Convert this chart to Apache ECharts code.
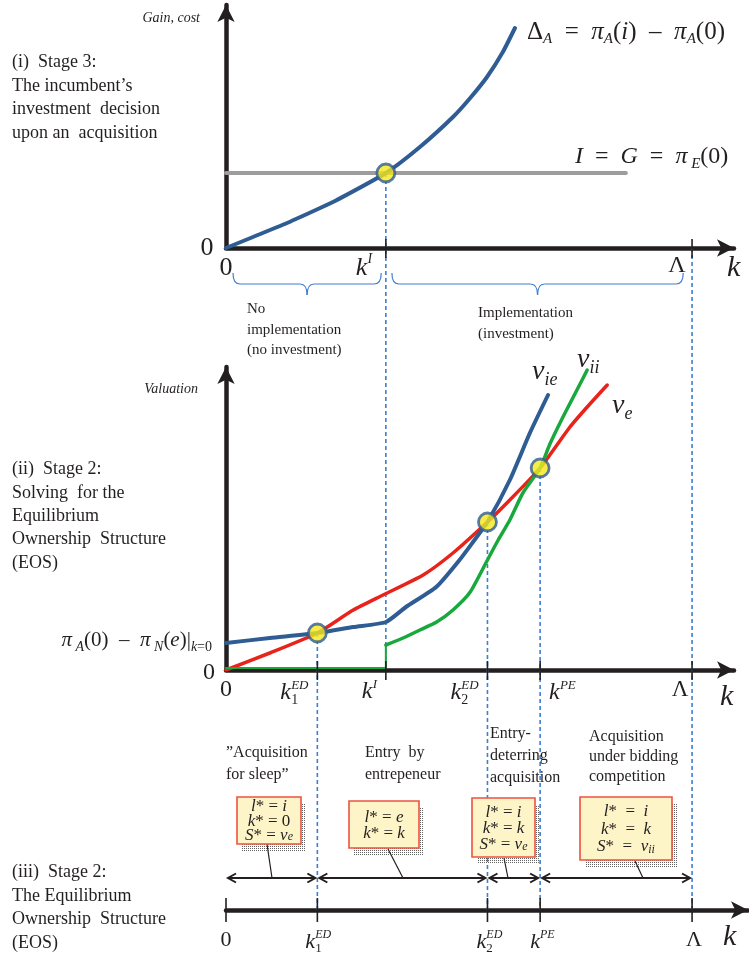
<!DOCTYPE html>
<html><head><meta charset="utf-8">
<script src="https://cdn.jsdelivr.net/npm/echarts@6/dist/echarts.min.js"></script>
<style>html,body{margin:0;padding:0;background:#fff}#c{width:749px;height:961px}</style>
</head><body><div id="c"></div>
<script>
// ---------------- data ----------------
const K_I = 3.43, K1_ED = 1.96, K2_ED = 5.61, K_PE = 6.74, LAMBDA = 10;
const COST_I = 7.5;            // I = G = pi_E(0)
const COST_END = 8.58;         // end of the cost line (k)
// Panel (i): Delta_A
const deltaA = [[0,0],[0.58,1.1],[1.31,2.5],[2.02,4.0],[2.38,4.8],[3.43,7.5],[4.16,10.1],[4.87,13.1],[5.24,15.0],[5.6,17.1],[5.94,19.6],[6.2,22.0]];
// Panel (ii): valuations
const vE  = [[0,0],[0.94,1.7],[1.96,3.7],[2.73,6.0],[3.37,7.5],[4.23,9.5],[4.87,11.7],[5.61,14.8],[6.09,17.0],[6.74,20.2],[7.38,24.3],[7.75,26.3],[8.18,28.5]];
const vIE = [[0,2.7],[0.94,3.2],[1.96,3.7],[2.73,4.3],[3.43,4.8],[3.86,6.3],[4.51,8.3],[5.01,11.0],[5.3,12.8],[5.61,14.8],[6.09,19.0],[6.52,23.7],[6.91,27.5]];
const vIIflat = [[0,0.2],[3.43,0.2],[3.43,2.5]];
const vII = [[3.43,2.5],[3.8,3.2],[4.16,4.0],[4.52,4.8],[4.87,6.0],[5.24,7.8],[5.61,11.0],[5.84,13.0],[6.09,15.0],[6.37,17.7],[6.74,20.2],[6.95,22.6],[7.23,25.3],[7.53,28.0],[7.75,30.0]];
const cross1 = [[K_I, COST_I]];
const cross2 = [[K1_ED,3.7],[K2_ED,14.8],[K_PE,20.2]];
// tick positions
const ticks1 = [K_I, LAMBDA];
const ticks2 = [K1_ED, K_I, K2_ED, K_PE, LAMBDA];
const ticks3 = [0, K1_ED, K2_ED, K_PE, LAMBDA];
// regimes in panel 3
const regimes = [[0,K1_ED],[K1_ED,K2_ED],[K2_ED,K_PE],[K_PE,LAMBDA]];

// ---------------- style ----------------
const INK='#231f20', BLUE='#2f5d93', RED='#e8231b', GREEN='#19a83e', GRAY='#9d9d9d',
      DASH='#3f7fce', YEL='#f5e71c', SERIF='"Liberation Serif","DejaVu Serif",serif';

function axisX(g, max){
  return {type:'value', gridIndex:g, min:0, max:max,
    axisLine:{show:true, onZero:false, symbol:['none','arrow'], symbolSize:[13,17], lineStyle:{color:INK, width:4.5}},
    axisTick:{show:false}, axisLabel:{show:false}, splitLine:{show:false}};
}
function axisY(g, max, show){
  return {type:'value', gridIndex:g, min:0, max:max, show:show,
    axisLine:{show:show, onZero:false, symbol:['none','arrow'], symbolSize:[13,17], lineStyle:{color:INK, width:4.5}},
    axisTick:{show:false}, axisLabel:{show:false}, splitLine:{show:false}};
}
const circ = {symbol:'circle', symbolSize:18, itemStyle:{color:YEL, borderColor:BLUE, borderWidth:2.8}, z:6};
function ln(g, data, color, width, smooth, z){
  return {type:'line', xAxisIndex:g, yAxisIndex:g, data:data, smooth:smooth, symbol:'none',
    lineStyle:{color:color, width:width, cap:'round', join:'round'}, z:z||3, silent:true};
}

const option = {
  animation:false, backgroundColor:'#fff',
  grid:[
    {left:226, top:5, width:508, height:243},
    {left:226, top:367, width:508, height:303},
    {left:226, top:860, width:522, height:50}
  ],
  xAxis:[axisX(0,10.9), axisX(1,10.9), axisX(2,11.2)],
  yAxis:[axisY(0,24.3,true), axisY(1,30.3,true), axisY(2,1,false)],
  series:[
    ln(0, [[0,COST_I],[COST_END,COST_I]], GRAY, 4, false, 2),
    ln(0, deltaA, BLUE, 4, 0.2, 3),
    Object.assign({type:'scatter', xAxisIndex:0, yAxisIndex:0, data:cross1}, circ),
    ln(1, vE, RED, 3.5, 0.2, 3),
    ln(1, vIE, BLUE, 4, 0.2, 4),
    ln(1, vIIflat, GREEN, 2, false, 3),
    ln(1, vII, GREEN, 3.5, 0.2, 3),
    Object.assign({type:'scatter', xAxisIndex:1, yAxisIndex:1, data:cross2}, circ),
    {type:'line', xAxisIndex:2, yAxisIndex:2, data:[], symbol:'none'}
  ]
};

const chart = echarts.init(document.getElementById('c'), null, {renderer:'canvas'});
chart.setOption(option);

// ---------------- annotations via library coordinates ----------------
const P = (g,k,v)=>chart.convertToPixel({gridIndex:g},[k,v]);
const els = [];
function poly(pts, st, z){ els.push({type:'polyline', z:z||4, silent:true, shape:{points:pts}, style:Object.assign({stroke:INK, lineWidth:1.5, fill:null}, st)}); }
function bez(x1,y1,cx,cy,x2,y2,st,z){ els.push({type:'bezierCurve', z:z||4, silent:true, shape:{x1:x1,y1:y1,cpx1:cx,cpy1:cy,x2:x2,y2:y2}, style:Object.assign({stroke:INK, lineWidth:1.5, fill:null}, st)}); }
function txt(x, y, text, st, z){ els.push({type:'text', x:x, y:y, z:z||20, silent:true,
  style:Object.assign({text:text, fill:INK, fontSize:18, fontFamily:SERIF, align:'left', verticalAlign:'middle'}, st)}); }
function r(fs, italic, va, lh){ return {fontSize:fs, fontFamily:SERIF, fontStyle:italic?'italic':'normal', fill:INK, verticalAlign:va||'middle', lineHeight:lh||Math.round(fs*1.2)}; }

// dashed guides
const dashSt = {stroke:DASH, lineWidth:1.6, lineDash:[4,3]};
poly([P(0,K_I,COST_I), P(1,K_I,0)], dashSt, 1);
poly([P(0,LAMBDA,0), P(2,LAMBDA,0)], dashSt, 1);
cross2.forEach(c=>poly([P(1,c[0],c[1]), P(2,c[0],0)], dashSt, 1));

// ticks
ticks1.forEach(k=>{const p=P(0,k,0); poly([[p[0],p[1]-9],[p[0],p[1]+10]], {lineWidth:1.6}, 5);});
ticks2.forEach(k=>{const p=P(1,k,0); poly([[p[0],p[1]-9],[p[0],p[1]+10]], {lineWidth:1.6}, 5);});
ticks3.forEach(k=>{const p=P(2,k,0); poly([[p[0],p[1]-12],[p[0],p[1]+12]], {lineWidth:1.6}, 5);});

// braces under panel (i)
function brace(x1, x2, y){
  const m=(x1+x2)/2, st={stroke:DASH, lineWidth:1.2};
  bez(x1, y-11, x1, y, x1+7, y, st);
  poly([[x1+7,y],[m-7,y]], st);
  bez(m-7, y, m, y, m, y+11, st);
  bez(m, y+11, m, y, m+7, y, st);
  poly([[m+7,y],[x2-7,y]], st);
  bez(x2-7, y, x2, y, x2, y-11, st);
}
brace(P(0,0.15,0)[0], P(0,K_I-0.1,0)[0], 284);
brace(P(0,K_I+0.13,0)[0], P(0,LAMBDA-0.19,0)[0], 284);

// double arrows in panel (iii)
const AY = 878;
regimes.forEach(rg=>{
  const a=P(2,rg[0],0)[0]+2, b=P(2,rg[1],0)[0]-2;
  poly([[a,AY],[b,AY]], {lineWidth:2}, 5);
  poly([[a+8,AY-4.5],[a,AY],[a+8,AY+4.5]], {lineWidth:2}, 5);
  poly([[b-8,AY-4.5],[b,AY],[b-8,AY+4.5]], {lineWidth:2}, 5);
});

// math-style axis labels
function kLab(x, y, fs, sup, sub){
  txt(x, y, 'k', {fontSize:fs, fontStyle:'italic'});
  const w = fs*0.45;
  if(sup) txt(x+w, y-fs*0.32, sup, {fontSize:Math.round(fs*0.55), fontStyle:'italic'});
  if(sub) txt(x+w, y+fs*0.3, sub, {fontSize:Math.round(fs*0.58)});
}
function at(g,k){ return P(g,k,0)[0]; }
// panel (i)
txt(at(0,0), 268, '0', {fontSize:26, align:'center'});
txt(207, 248, '0', {fontSize:26, align:'center'});
kLab(at(0,K_I)-30, 268, 26, 'I');
txt(at(0,LAMBDA)-15, 266, 'Λ', {fontSize:24, align:'center'});
txt(727, 268, 'k', {fontSize:30, fontStyle:'italic'});
// panel (ii)
txt(at(1,0), 690, '0', {fontSize:24, align:'center'});
txt(209, 673, '0', {fontSize:24, align:'center'});
kLab(at(1,K1_ED)-37, 693, 24, 'ED', '1');
kLab(at(1,K_I)-24, 692, 24, 'I');
kLab(at(1,K2_ED)-37, 693, 24, 'ED', '2');
kLab(at(1,K_PE)+9, 693, 24, 'PE');
txt(at(1,LAMBDA)-12, 690, 'Λ', {fontSize:23, align:'center'});
txt(720, 697, 'k', {fontSize:30, fontStyle:'italic'});
// panel (iii)
txt(at(2,0), 940, '0', {fontSize:22, align:'center'});
kLab(at(2,K1_ED)-12, 942, 22, 'ED', '1');
kLab(at(2,K2_ED)-11, 942, 22, 'ED', '2');
kLab(at(2,K_PE)-10, 942, 22, 'PE');
txt(at(2,LAMBDA)+2, 940, 'Λ', {fontSize:22, align:'center'});
txt(723, 937, 'k', {fontSize:30, fontStyle:'italic'});

// axis titles
txt(200, 18, 'Gain, cost', {fontSize:14, fontStyle:'italic', align:'right'});
txt(198, 389, 'Valuation', {fontSize:14, fontStyle:'italic', align:'right'});

// stage descriptions
txt(12, 51, '(i)  Stage 3:\nThe incumbent’s\ninvestment  decision\nupon an  acquisition', {fontSize:18, lineHeight:23.5, verticalAlign:'top'});
txt(12, 458, '(ii)  Stage 2:\nSolving  for the\nEquilibrium\nOwnership  Structure\n(EOS)', {fontSize:18, lineHeight:23.3, verticalAlign:'top'});
txt(12, 861, '(iii)  Stage 2:\nThe Equilibrium\nOwnership  Structure\n(EOS)', {fontSize:18, lineHeight:23.5, verticalAlign:'top'});

// implementation notes
txt(247, 299, 'No\nimplementation\n(no investment)', {fontSize:15, lineHeight:20.5, verticalAlign:'top'});
txt(478, 303, 'Implementation\n(investment)', {fontSize:15, lineHeight:21, verticalAlign:'top'});

// formulas
txt(527, 32, '{n|Δ}{s|A}{n|  =  }{i|π}{s|A}{n|(}{i|i}{n|)  –  }{i|π}{s|A}{n|(0)}', {rich:{
  n:r(25,false,'middle',30), i:r(25,true,'middle',30), s:r(15,true,'bottom',14)}});
txt(575, 157, '{i|I}{n|  =  }{i|G}{n|  =  }{i|π}{s| E}{n|(0)}', {rich:{
  n:r(24,false,'middle',30), i:r(24,true,'middle',30), s:r(15,true,'bottom',15)}});
txt(212, 640, '{i|π}{s| A}{n|(0)  –  }{i|π}{s| N}{n|(}{i|e}{n|)|}{s|k}{t|=0}', {align:'right', rich:{
  n:r(21,false,'middle',28), i:r(21,true,'middle',28), s:r(14,true,'bottom',13), t:r(14,false,'bottom',13)}});
txt(532, 372, '{v|v}{s|ie}', {rich:{v:r(28,true,'middle',34), s:r(18,true,'bottom',18)}});
txt(577, 360, '{v|v}{s|ii}', {rich:{v:r(28,true,'middle',34), s:r(18,true,'bottom',18)}});
txt(612, 406, '{v|v}{s|e}', {rich:{v:r(28,true,'middle',34), s:r(18,true,'bottom',18)}});

// regime titles
txt(226, 742, '”Acquisition\nfor sleep”', {fontSize:16, lineHeight:22, verticalAlign:'top'});
txt(365, 742, 'Entry  by\nentrepeneur', {fontSize:16, lineHeight:22, verticalAlign:'top'});
txt(490, 723, 'Entry-\ndeterring\nacquisition', {fontSize:16, lineHeight:22, verticalAlign:'top'});
txt(589, 727, 'Acquisition\nunder bidding\ncompetition', {fontSize:16, lineHeight:20, verticalAlign:'top'});

// outcome boxes
const pc = document.createElement('canvas'); pc.width=2; pc.height=2;
const pg = pc.getContext('2d'); pg.fillStyle='rgba(60,60,60,0.8)'; pg.fillRect(0,0,1,1);
const boxRich = {n:r(17,false,'middle',15), i:r(17,true,'middle',15), s:r(12,true,'bottom',11)};
function box(x,y,w,h,text,lh,lead){
  els.push({type:'rect', z:8, silent:true, shape:{x:x+5,y:y+7,width:w,height:h}, style:{fill:{type:'pattern', image:pc, repeat:'repeat'}}});
  els.push({type:'rect', z:9, silent:true, shape:{x:x,y:y,width:w,height:h}, style:{fill:'#fdf5c8', stroke:'#ee5240', lineWidth:1.6}});
  const rich = {n:Object.assign({},boxRich.n,{lineHeight:lh}), i:Object.assign({},boxRich.i,{lineHeight:lh}), s:Object.assign({},boxRich.s,{lineHeight:lh*0.75})};
  txt(x+w/2, y+h/2+1, text, {align:'center', rich:rich}, 12);
  poly(lead, {lineWidth:1.2}, 7);
}
box(237,797,64,47,'{i|l}{n|* = }{i|i}\n{i|k}{n|* = 0}\n{i|S}{n|* = }{i|v}{s|e}',14.5,[[267,844],[272,AY]]);
box(349,801,70,47,'{i|l}{n|* = }{i|e}\n{i|k}{n|* = }{i|k}',15.5,[[388,849],[403,AY]]);
box(472,798,63,59,'{i|l}{n|* = }{i|i}\n{i|k}{n|* = }{i|k}\n{i|S}{n|* = }{i|v}{s|e}',16,[[504,858],[508,AY]]);
box(580,797,92,63,'{i|l}{n|*  =  }{i|i}\n{i|k}{n|*  =  }{i|k}\n{i|S}{n|*  =  }{i|v}{s|ii}',17.5,[[635,861],[643,AY]]);

chart.setOption({graphic:{elements:els}});
</script></body></html>
